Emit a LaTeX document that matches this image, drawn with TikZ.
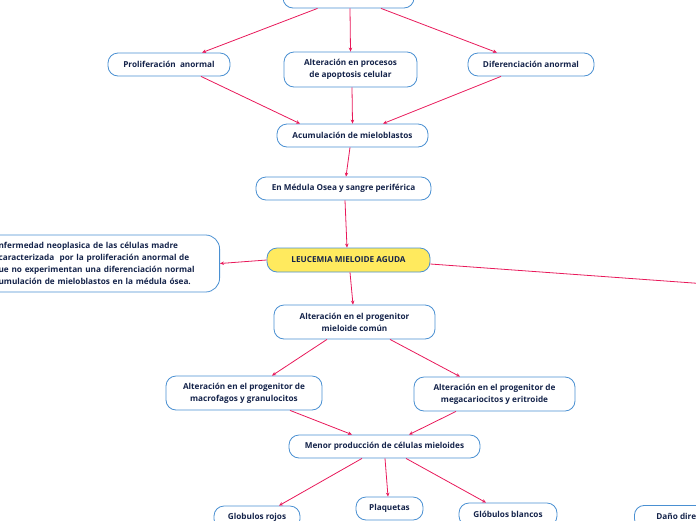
\documentclass[tikz,border=0pt]{standalone}
\usepackage{fontspec}
\setmainfont{Open Sans}
\usetikzlibrary{arrows.meta}
\definecolor{bcol}{HTML}{4A90D2}
\definecolor{tcol}{HTML}{14234A}
\definecolor{acol}{HTML}{E8195A}
\definecolor{yel}{HTML}{FFEA5E}
\tikzset{
  box/.style={draw=bcol, line width=0.8pt, rounded corners=10pt, fill=white, text=tcol,
    font=\bfseries\fontsize{8.2}{12}\selectfont, align=center, inner sep=2pt},
  arr/.style={draw=acol, line width=0.8pt, -{Stealth[length=4pt,width=3.5pt]}}
}
\begin{document}
\begin{tikzpicture}[x=1pt,y=-1pt]
\useasboundingbox (0,0) rectangle (696,520);
\clip (0,0) rectangle (696,520);
\node[box, minimum width=131, minimum height=23] (top) at (348.5,-3.5) {};
\node[box, minimum width=122, minimum height=23] (prol) at (169,64.5) {Proliferación\ \ anormal};
\node[box, minimum width=133, minimum height=35] (apop) at (350.5,69.5) {Alteración en procesos\\de apoptosis celular};
\node[box, minimum width=126, minimum height=23] (dif) at (531,64.5) {Diferenciación anormal};
\node[box, minimum width=151, minimum height=23] (acum) at (352.5,135.5) {Acumulación de mieloblastos};
\node[box, minimum width=175, minimum height=23] (med) at (343.5,188.5) {En Médula Osea y sangre periférica};
\node[box, fill=yel, minimum width=163, minimum height=24] (leuc) at (348.5,260) {LEUCEMIA MIELOIDE AGUDA};
\node[box, anchor=east, text width=200pt, align=left, inner xsep=21pt, minimum height=57, rounded corners=14pt] (def) at (220,263.5)
  {nfermedad neoplasica de las células madre\\caracterizada\ \ por la proliferación anormal de\\ue no experimentan una diferenciación normal\\umulación de mieloblastos en la médula ósea.};
\coordinate (off) at (700,283.5);
\node[box, minimum width=161, minimum height=34] (alt) at (354.5,322) {Alteración en el progenitor\\mieloide común};
\node[box, minimum width=156, minimum height=34] (mac) at (244,393) {Alteración en el progenitor de\\macrofagos y granulocitos};
\node[box, minimum width=161, minimum height=34] (meg) at (494.5,394) {Alteración en el progenitor de\\megacariocitos y eritroide};
\node[box, minimum width=191, minimum height=23] (men) at (384.5,446.5) {Menor producción de células mieloides};
\node[box, minimum width=86, minimum height=23] (roj) at (257,517.5) {Globulos rojos};
\node[box, minimum width=67, minimum height=23] (plq) at (389.5,508.5) {Plaquetas};
\node[box, minimum width=98, minimum height=23] (bla) at (508,514.5) {Glóbulos blancos};
\node[box, anchor=north west, minimum height=23, inner xsep=22pt] (dan) at (634,505) {Daño dire};
\draw[arr] ([xshift=-31pt]top.south) -- ([xshift=33pt]prol.north);
\draw[arr] ([xshift=1.5pt]top.south) -- (apop.north);
\draw[arr] ([xshift=32.5pt]top.south) -- ([xshift=-34pt]dif.north);
\draw[arr] ([xshift=32pt]prol.south) -- ([xshift=-52.5pt]acum.north);
\draw[arr] ([xshift=1.5pt]apop.south) -- (acum.north);
\draw[arr] ([xshift=-30pt]dif.south) -- ([xshift=30.5pt]acum.north);
\draw[arr] ([xshift=-2.5pt]acum.south) -- ([xshift=2.5pt]med.north);
\draw[arr] ([xshift=1.5pt]med.south) -- ([xshift=-1.5pt]leuc.north);
\draw[arr] (leuc.west) -- (def.east);
\draw[arr, -] ([yshift=-4pt]leuc.east) -- (off);
\draw[arr] ([xshift=1.5pt]leuc.south) -- ([xshift=-1.5pt]alt.north);
\draw[arr] ([xshift=-27.5pt]alt.south) -- ([xshift=28pt]mac.north);
\draw[arr] ([xshift=35.5pt]alt.south) -- ([xshift=-34.5pt]meg.north);
\draw[arr] ([xshift=46pt]mac.south) -- ([xshift=-32.5pt]men.north);
\draw[arr] ([xshift=-38.5pt]meg.south) -- ([xshift=24.5pt]men.north);
\draw[arr] ([xshift=-22.5pt]men.south) -- ([xshift=22pt]roj.north);
\draw[arr] ([xshift=0.5pt]men.south) -- ([xshift=-1.5pt]plq.north);
\draw[arr] ([xshift=21.5pt]men.south) -- ([xshift=-22pt]bla.north);
\end{tikzpicture}
\end{document}
